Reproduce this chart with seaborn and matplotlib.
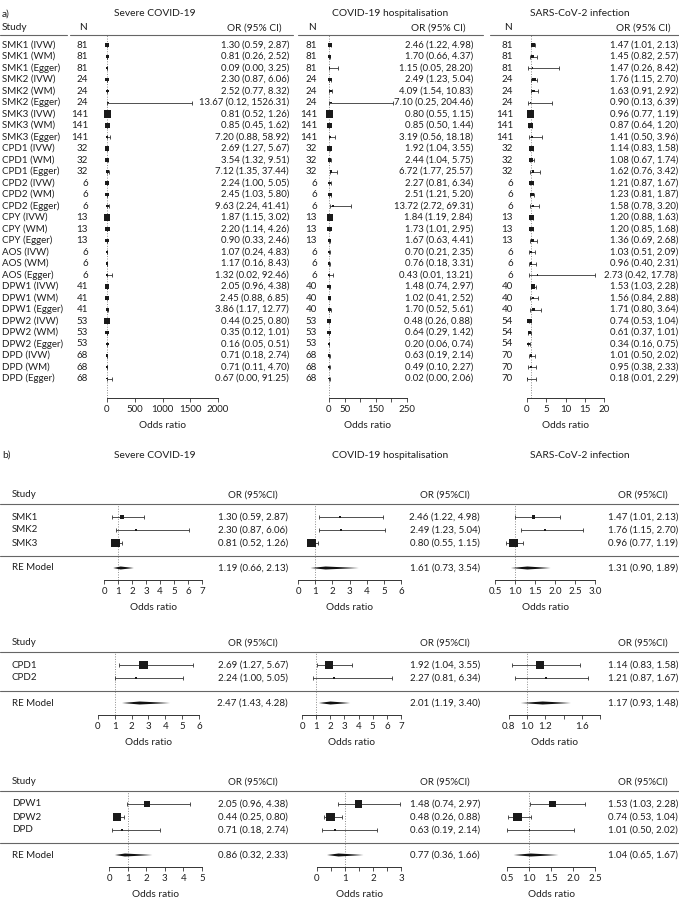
import matplotlib

matplotlib.use("Agg")
import matplotlib.pyplot as plt
import matplotlib.transforms as mtransforms
import numpy as np
import pandas as pd
import seaborn as sns

W, H = 679, 900

outcomes = ["Severe COVID-19", "COVID-19 hospitalisation", "SARS-CoV-2 infection"]

# ---- panel a: each exposure x MR method ----
exposures = ["SMK1", "SMK2", "SMK3", "CPD1", "CPD2", "CPY", "AOS", "DPW1", "DPW2", "DPD"]
methods = ["IVW", "WM", "Egger"]
study_labels = [f"{e} ({m})" for e in exposures for m in methods]

n_severe = [81, 81, 81, 24, 24, 24, 141, 141, 141, 32, 32, 32, 6, 6, 6,
            13, 13, 13, 6, 6, 6, 41, 41, 41, 53, 53, 53, 68, 68, 68]
or_severe = [1.30, 0.81, 0.09, 2.30, 2.52, 13.67, 0.81, 0.85, 7.20, 2.69, 3.54, 7.12, 2.24, 2.45, 9.63,
             1.87, 2.20, 0.90, 1.07, 1.17, 1.32, 2.05, 2.45, 3.86, 0.44, 0.35, 0.16, 0.71, 0.71, 0.67]
lo_severe = [0.59, 0.26, 0.00, 0.87, 0.77, 0.12, 0.52, 0.45, 0.88, 1.27, 1.32, 1.35, 1.00, 1.03, 2.24,
             1.15, 1.14, 0.33, 0.24, 0.16, 0.02, 0.96, 0.88, 1.17, 0.25, 0.12, 0.05, 0.18, 0.11, 0.00]
hi_severe = [2.87, 2.52, 3.25, 6.06, 8.32, 1526.31, 1.26, 1.62, 58.92, 5.67, 9.51, 37.44, 5.05, 5.80, 41.41,
             3.02, 4.26, 2.46, 4.83, 8.43, 92.46, 4.38, 6.85, 12.77, 0.80, 1.01, 0.51, 2.74, 4.70, 91.25]

n_hosp = [81, 81, 81, 24, 24, 24, 141, 141, 141, 32, 32, 32, 6, 6, 6,
          13, 13, 13, 6, 6, 6, 40, 40, 40, 53, 53, 53, 68, 68, 68]
or_hosp = [2.46, 1.70, 1.15, 2.49, 4.09, 7.10, 0.80, 0.85, 3.19, 1.92, 2.44, 6.72, 2.27, 2.51, 13.72,
           1.84, 1.73, 1.67, 0.70, 0.76, 0.43, 1.48, 1.02, 1.70, 0.48, 0.64, 0.20, 0.63, 0.49, 0.02]
lo_hosp = [1.22, 0.66, 0.05, 1.23, 1.54, 0.25, 0.55, 0.50, 0.56, 1.04, 1.04, 1.77, 0.81, 1.21, 2.72,
           1.19, 1.01, 0.63, 0.21, 0.18, 0.01, 0.74, 0.41, 0.52, 0.26, 0.29, 0.06, 0.19, 0.10, 0.00]
hi_hosp = [4.98, 4.37, 28.20, 5.04, 10.83, 204.46, 1.15, 1.44, 18.18, 3.55, 5.75, 25.57, 6.34, 5.20, 69.31,
           2.84, 2.95, 4.41, 2.35, 3.31, 13.21, 2.97, 2.52, 5.61, 0.88, 1.42, 0.74, 2.14, 2.27, 2.06]

n_inf = [81, 81, 81, 24, 24, 24, 141, 141, 141, 32, 32, 32, 6, 6, 6,
         13, 13, 13, 6, 6, 6, 40, 40, 40, 54, 54, 54, 70, 70, 70]
or_inf = [1.47, 1.45, 1.47, 1.76, 1.63, 0.90, 0.96, 0.87, 1.41, 1.14, 1.08, 1.62, 1.21, 1.23, 1.58,
          1.20, 1.20, 1.36, 1.03, 0.96, 2.73, 1.53, 1.56, 1.71, 0.74, 0.61, 0.34, 1.01, 0.95, 0.18]
lo_inf = [1.01, 0.82, 0.26, 1.15, 0.91, 0.13, 0.77, 0.64, 0.50, 0.83, 0.67, 0.76, 0.87, 0.81, 0.78,
          0.88, 0.85, 0.69, 0.51, 0.40, 0.42, 1.03, 0.84, 0.80, 0.53, 0.37, 0.16, 0.50, 0.38, 0.01]
hi_inf = [2.13, 2.57, 8.42, 2.70, 2.92, 6.39, 1.19, 1.20, 3.96, 1.58, 1.74, 3.42, 1.67, 1.87, 3.20,
          1.63, 1.68, 2.68, 2.09, 2.31, 17.78, 2.28, 2.88, 3.64, 1.04, 1.01, 0.75, 2.02, 2.33, 2.29]

a_ticks = [[0, 500, 1000, 1500, 2000], [0, 50, 100, 150, 200, 250], [0, 5, 10, 15, 20]]
a_ticklabels = [["0", "500", "1000", "1500", "2000"], ["0", "50", "", "150", "", "250"],
                ["0", "5", "10", "15", "20"]]

# ---- panel b: IVW estimates pooled by random-effects model ----
b_groups = [["SMK1", "SMK2", "SMK3"], ["CPD1", "CPD2"], ["DPW1", "DPW2", "DPD"]]
re_severe = [1.19, 2.47, 0.86]
re_lo_severe = [0.66, 1.43, 0.32]
re_hi_severe = [2.13, 4.28, 2.33]
re_hosp = [1.61, 2.01, 0.77]
re_lo_hosp = [0.73, 1.19, 0.36]
re_hi_hosp = [3.54, 3.40, 1.66]
re_inf = [1.31, 1.17, 1.04]
re_lo_inf = [0.90, 0.93, 0.65]
re_hi_inf = [1.89, 1.48, 1.67]

b_ticks_severe = [[0, 1, 2, 3, 4, 5, 6, 7], [0, 1, 2, 3, 4, 5, 6], [0, 1, 2, 3, 4, 5]]
b_ticks_hosp = [[0, 1, 2, 3, 4, 5, 6], [0, 1, 2, 3, 4, 5, 6, 7], [0, 0.5, 1, 1.5, 2, 2.5, 3]]
b_ticks_inf = [[0.5, 1.0, 1.5, 2.0, 2.5, 3.0], [0.8, 1.0, 1.2, 1.4, 1.6, 1.8], [0.5, 1.0, 1.5, 2.0, 2.5]]
b_labels_severe = [["0", "1", "2", "3", "4", "5", "6", "7"], ["0", "1", "2", "3", "4", "5", "6"],
                   ["0", "1", "2", "3", "4", "5"]]
b_labels_hosp = [["0", "1", "2", "3", "4", "5", "6"], ["0", "1", "2", "3", "4", "5", "6", "7"],
                 ["0", "", "1", "", "2", "", "3"]]
b_labels_inf = [["0.5", "1.0", "1.5", "2.0", "2.5", "3.0"], ["0.8", "1.0", "1.2", "", "1.6", ""],
                ["0.5", "1.0", "1.5", "2.0", "2.5"]]

# ---- style ----
sns.set_theme(style="white")
plt.rcParams["font.family"] = ["Lato", "DejaVu Sans"]
FS = 7.0
FS_NUM = 6.8
TXT = "#1e1e1e"
LINE = "#333333"

fig = plt.figure(figsize=(W / 100, H / 100), dpi=100)


def add_axes(x0, x1, ytop, ybot):
    return fig.add_axes([x0 / W, 1 - ybot / H, (x1 - x0) / W, (ybot - ytop) / H])


def fig_text(x, y, s, ha="left", size=FS):
    fig.text(x / W, 1 - y / H, s, ha=ha, va="center", fontsize=size, color=TXT)


def row_text(ax, x, y, s, ha="left", size=FS):
    trans = mtransforms.blended_transform_factory(fig.transFigure, ax.transData)
    ax.text(x / W, y, s, transform=trans, ha=ha, va="center", fontsize=size, color=TXT, clip_on=False)


def hline(ax, y, x0=0, x1=W):
    trans = mtransforms.blended_transform_factory(fig.transFigure, ax.transData)
    ax.plot([x0 / W, x1 / W], [y, y], transform=trans, color="#666666", lw=0.8, clip_on=False)


def fmt(e, l, h):
    return f"{e:.2f} ({l:.2f}, {h:.2f})"


def forest(ax, est, lo, hi, rows, sizes):
    est, lo, hi = np.asarray(est), np.asarray(lo), np.asarray(hi)
    se = (np.log(hi) - np.log(np.clip(lo, 0.005, None))) / 3.92
    df = pd.DataFrame({"est": est, "row": rows, "w": 1 / se ** 2})
    ax.axvline(1, color="#8c8c8c", lw=0.7, ls=(0, (1, 1.6)), zorder=1)
    eb = ax.errorbar(est, rows, xerr=[est - lo, hi - est], fmt="none", ecolor=LINE,
                     elinewidth=0.6, capsize=1.6, capthick=0.6, zorder=2)
    for art in eb.get_children():
        art.set_clip_on(False)
    sns.scatterplot(data=df, x="est", y="row", size="w", sizes=sizes, marker="s",
                    color="#1a1a1a", linewidth=0, legend=False, ax=ax, zorder=3, clip_on=False)


def style_axis(ax, xlim, ylim, ticks, labels):
    ax.set_xlim(xlim)
    ax.set_ylim(ylim)
    ax.set_xticks(ticks)
    ax.set_xticklabels(labels)
    ax.set_yticks([])
    ax.set_ylabel("")
    for side in ["left", "right", "top"]:
        ax.spines[side].set_visible(False)
    ax.spines["bottom"].set_color(LINE)
    ax.spines["bottom"].set_linewidth(0.7)
    ax.tick_params(axis="x", bottom=True, length=3, width=0.6, color=LINE,
                   labelsize=FS, labelcolor=TXT, pad=2)
    ax.set_xlabel("Odds ratio", fontsize=FS + 0.3, color=TXT, labelpad=5)
    ax.patch.set_alpha(0)


# ================= panel a =================
ROW_A = 11.5
A_TOP, A_FIRST, A_AXIS = 35, 45, 398
a_ylim = ((A_AXIS - A_FIRST) / ROW_A, (A_TOP - A_FIRST) / ROW_A)
a_rows = np.arange(len(study_labels))

a_x = [(107, 218), (329, 407), (527, 604)]
a_n_right = [88, 317, 513]
a_or_right = [289, 473, 678]
a_title_x = [155, 390, 580]
a_data = [(n_severe, or_severe, lo_severe, hi_severe),
          (n_hosp, or_hosp, lo_hosp, hi_hosp),
          (n_inf, or_inf, lo_inf, hi_inf)]

fig_text(2, 14, "a)", size=FS + 0.4)
fig_text(2, 28, "Study", size=FS + 0.3)
for seg in [(0, 67), (70, 293), (298, 483), (490, W)]:
    fig.add_artist(plt.Line2D([seg[0] / W, seg[1] / W], [1 - A_TOP / H] * 2, color="#666666", lw=0.8))

a_axes = []
for k, (nn, est, lo, hi) in enumerate(a_data):
    x0, x1 = a_x[k]
    ax = add_axes(x0, x1, A_TOP, A_AXIS)
    forest(ax, est, lo, hi, a_rows, sizes=(1.2, 26))
    style_axis(ax, (a_ticks[k][0], a_ticks[k][-1]), a_ylim, a_ticks[k], a_ticklabels[k])
    a_axes.append(ax)
    fig_text(a_title_x[k], 14, outcomes[k], ha="center", size=FS + 0.4)
    fig_text(a_n_right[k] - 5, 28, "N", ha="center", size=FS + 0.3)
    fig_text(a_or_right[k] - 35, 28, "OR (95% CI)", ha="center", size=FS + 0.3)
    for i in a_rows:
        row_text(ax, a_n_right[k], i, str(nn[i]), ha="right")
        row_text(ax, a_or_right[k], i, fmt(est[i], lo[i], hi[i]), ha="right", size=FS_NUM)

for i in a_rows:
    row_text(a_axes[0], 2, i, study_labels[i])

# ================= panel b =================
ROW_B = 13
b_first = [517, 665, 804]
b_x = [
    [(104, 202), (98, 199), (109, 202)],
    [(298, 401), (302, 401), (317, 401)],
    [(495, 595), (509, 600), (507, 595)],
]
b_ticks = [b_ticks_severe, b_ticks_hosp, b_ticks_inf]
b_labels = [b_labels_severe, b_labels_hosp, b_labels_inf]
b_re = [(re_severe, re_lo_severe, re_hi_severe), (re_hosp, re_lo_hosp, re_hi_hosp),
        (re_inf, re_lo_inf, re_hi_inf)]
b_or_right = [288, 480, 678]

fig_text(2, 455, "b)", size=FS + 0.4)
for k in range(3):
    fig_text(a_title_x[k], 455, outcomes[k], ha="center", size=FS + 0.4)

for g, group in enumerate(b_groups):
    n = len(group)
    rows = np.arange(n)
    idx = [study_labels.index(f"{s} (IVW)") for s in group]
    r1 = b_first[g]
    axis_y = r1 + (n - 1) * ROW_B + 37
    ylim = ((axis_y - r1) / ROW_B, -1)
    sep_y = n
    re_y = n + 12 / ROW_B
    for k, (nn, est, lo, hi) in enumerate(a_data):
        x0, x1 = b_x[k][g]
        ax = add_axes(x0, x1, r1 - ROW_B, axis_y)
        e = [est[i] for i in idx]
        l = [lo[i] for i in idx]
        h = [hi[i] for i in idx]
        forest(ax, e, l, h, rows, sizes=(1.8, 38))
        re_e, re_l, re_h = b_re[k][0][g], b_re[k][1][g], b_re[k][2][g]
        dh = 1.5 / ROW_B
        ax.fill([re_l, re_e, re_h, re_e], [re_y, re_y - dh, re_y, re_y + dh],
                color="#111111", lw=0, zorder=3, clip_on=False)
        tk = b_ticks[k][g]
        style_axis(ax, (tk[0], tk[-1]), ylim, tk, b_labels[k][g])
        row_text(ax, b_or_right[k] - 35, -1.7, "OR (95%CI)", ha="center")
        for j in rows:
            row_text(ax, b_or_right[k], j, fmt(e[j], l[j], h[j]), ha="right")
        row_text(ax, b_or_right[k], re_y, fmt(re_e, re_l, re_h), ha="right")
        if k == 0:
            row_text(ax, 12, -1.7, "Study")
            for j in rows:
                row_text(ax, 12, j, group[j])
            row_text(ax, 12, re_y, "RE Model")
            hline(ax, -1)
            hline(ax, sep_y)

fig.savefig("out.png", dpi=100)
